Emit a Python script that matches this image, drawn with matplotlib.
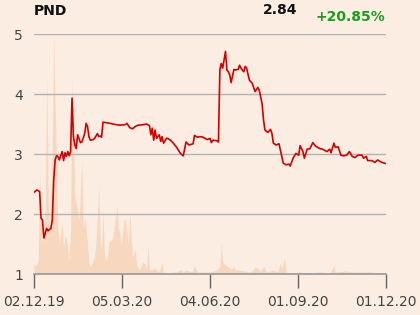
import matplotlib
matplotlib.use("Agg")
import matplotlib.pyplot as plt
import numpy as np

ticker = "PND"
last_price = "2.84"
change = "+20.85%"

# trading-day index and close price
price_day = [0, 2, 3, 4, 5, 6, 7, 8, 9, 10, 11, 12, 13, 14, 15, 16, 17, 18, 20, 21,
             22, 23, 24, 25, 26, 27, 28, 29, 30, 31, 33, 34, 36, 37, 38, 39, 40, 42, 43, 45,
             46, 47, 48, 49, 52, 54, 58, 61, 65, 66, 68, 70, 72, 74, 78, 80, 82, 83, 84, 85,
             86, 87, 89, 90, 91, 92, 94, 95, 97, 99, 101, 104, 106, 108, 110, 113, 114, 116, 118, 120,
             123, 125, 126, 127, 130, 131, 132, 133, 134, 135, 136, 137, 138, 139, 140, 142, 143, 145, 146, 147,
             149, 150, 151, 153, 155, 157, 159, 160, 162, 163, 164, 166, 168, 169, 170, 172, 174, 176, 177, 179,
             181, 182, 184, 186, 188, 189, 191, 192, 194, 196, 198, 200, 203, 205, 208, 210, 211, 213, 214, 216,
             218, 220, 222, 224, 226, 228, 230, 233, 234, 236, 237, 240, 242, 244, 247, 250]
price = [2.36, 2.40, 2.39, 2.37, 1.93, 1.90, 1.60, 1.68, 1.76, 1.72, 1.74, 1.76, 1.90, 2.57, 2.90, 2.97, 2.96, 2.90, 3.04, 2.89,
         3.02, 2.96, 3.04, 2.97, 3.04, 3.93, 3.29, 3.15, 3.09, 3.32, 3.19, 3.20, 3.34, 3.51, 3.46, 3.29, 3.23, 3.24, 3.26, 3.34,
         3.29, 3.30, 3.28, 3.53, 3.52, 3.51, 3.49, 3.48, 3.49, 3.51, 3.44, 3.42, 3.46, 3.48, 3.49, 3.50, 3.47, 3.32, 3.43, 3.23,
         3.40, 3.26, 3.32, 3.21, 3.29, 3.18, 3.26, 3.26, 3.23, 3.18, 3.12, 3.01, 2.97, 3.20, 3.15, 3.17, 3.31, 3.28, 3.29, 3.28,
         3.24, 3.26, 3.19, 3.23, 3.22, 3.20, 4.40, 4.51, 4.43, 4.57, 4.71, 4.40, 4.37, 4.32, 4.19, 4.41, 4.40, 4.41, 4.48, 4.43,
         4.37, 4.46, 4.43, 4.23, 4.18, 4.04, 4.11, 4.06, 3.84, 3.57, 3.40, 3.36, 3.41, 3.34, 3.18, 3.15, 3.17, 2.96, 2.85, 2.82,
         2.83, 2.80, 2.93, 3.01, 2.98, 3.14, 3.04, 2.93, 3.08, 3.09, 3.19, 3.13, 3.09, 3.08, 3.04, 3.08, 3.02, 3.18, 3.11, 3.12,
         2.98, 2.97, 2.98, 3.04, 2.96, 2.94, 2.98, 2.98, 2.93, 2.96, 2.89, 2.89, 2.86, 2.90, 2.86, 2.84]

# trading-day index and volume (thousand shares)
vol_day = [0, 1, 3, 4, 5, 6, 8, 9, 10, 11, 13, 14, 16, 17, 18, 20, 21, 22, 23, 25,
           26, 27, 28, 29, 31, 32, 34, 35, 36, 38, 39, 40, 43, 44, 46, 47, 48, 49, 50, 52,
           53, 55, 56, 59, 60, 61, 62, 64, 65, 67, 68, 70, 72, 73, 75, 77, 79, 80, 81, 82,
           83, 86, 88, 89, 91, 92, 95, 98, 101, 104, 106, 108, 110, 112, 114, 116, 119, 124, 128, 132,
           133, 134, 136, 138, 140, 142, 143, 146, 149, 152, 155, 157, 159, 161, 163, 165, 168, 170, 173, 175,
           176, 178, 179, 182, 189, 196, 203, 210, 213, 214, 221, 226, 231, 239, 246, 250]
volume = [50, 40, 60, 505, 285, 155, 300, 1000, 450, 190, 600, 1195, 535, 220, 155, 255, 135, 185, 185, 70,
          220, 970, 720, 385, 320, 270, 570, 220, 285, 155, 55, 35, 85, 150, 435, 155, 120, 310, 85, 70,
          155, 170, 180, 345, 225, 205, 150, 275, 270, 150, 310, 85, 120, 40, 20, 60, 50, 25, 145, 25,
          20, 30, 10, 15, 55, 10, 5, 10, 10, 20, 10, 20, 15, 10, 40, 10, 10, 10, 15, 35,
          155, 60, 45, 35, 25, 35, 20, 20, 15, 10, 15, 35, 30, 15, 40, 10, 15, 20, 10, 55,
          25, 80, 10, 5, 10, 5, 10, 5, 40, 10, 15, 10, 10, 10, 5, 5]

tick_labels = ["02.12.19", "05.03.20", "04.06.20", "01.09.20", "01.12.20"]

bg = "#fbede1"
fig = plt.figure(figsize=(4.2, 3.15), dpi=100, facecolor=bg)
ax = fig.add_axes([34 / 420, 41 / 315, 352 / 420, 240 / 315])
ax.set_facecolor(bg)

axv = ax.twinx()
axv.fill_between(vol_day, 0, volume, color="#f7d8bf", lw=0, zorder=1)
axv.set_ylim(0, 1200)
axv.axis("off")
ax.set_zorder(axv.get_zorder() + 1)
ax.patch.set_visible(False)
fig.patches.append(matplotlib.patches.Rectangle((0, 0), 1, 1, transform=fig.transFigure,
                                                facecolor=bg, zorder=-10))

ax.plot(price_day, price, color="#d40000", lw=1.2, zorder=3)

ax.set_xlim(0, 250)
ax.set_ylim(1, 5)
ax.set_yticks([1, 2, 3, 4, 5])
ax.yaxis.grid(True, color="#b3b3b3", lw=1.0)
ax.set_axisbelow(True)
ax.tick_params(axis="y", length=0, pad=8, labelsize=10, labelcolor="#444444")
ax.set_xticks(np.linspace(0, 250, len(tick_labels)))
ax.set_xticklabels(tick_labels)
ax.tick_params(axis="x", length=10, width=1, color="#666666", pad=5, labelsize=10, labelcolor="#444444")
for s in ["top", "right", "left"]:
    ax.spines[s].set_visible(False)
ax.spines["bottom"].set_color("#999999")
ax.spines["bottom"].set_linewidth(1.2)

fig.text(34 / 420, 1 - 11 / 315, ticker, fontsize=10, fontweight="bold", color="#111111",
         ha="left", va="center")
fig.text(297 / 420, 1 - 10 / 315, last_price, fontsize=10, fontweight="bold", color="#111111",
         ha="right", va="center")
fig.text(385 / 420, 1 - 17 / 315, change, fontsize=10, fontweight="bold", color="#1a9e1a",
         ha="right", va="center")

fig.savefig("out.png", dpi=100, facecolor=bg)
